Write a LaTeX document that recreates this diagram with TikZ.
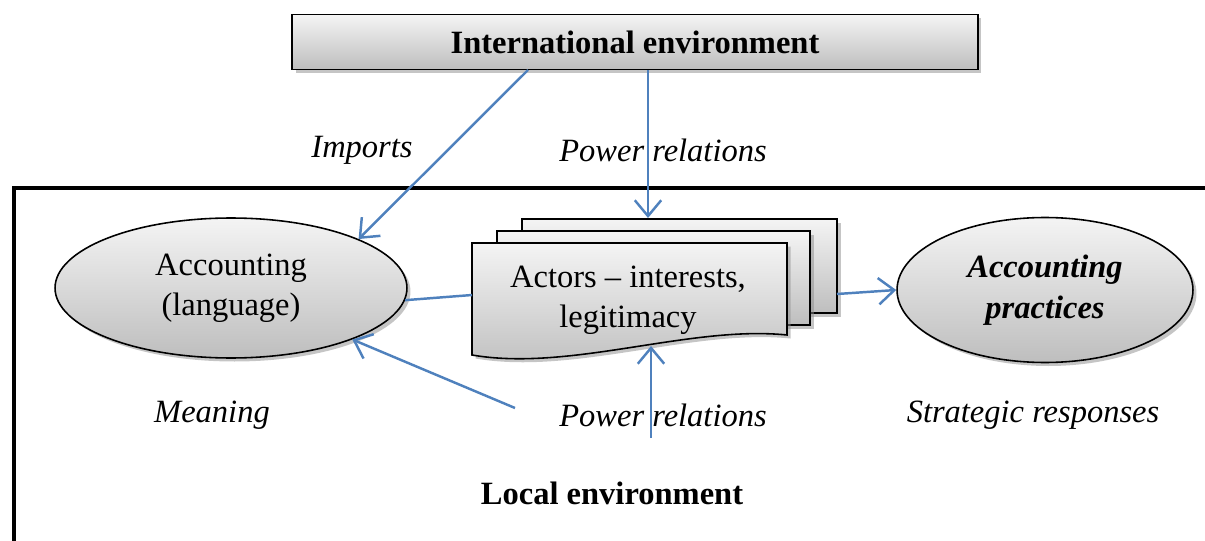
\documentclass[tikz,border=0pt]{standalone}
\usepackage{fontspec}
\setmainfont{Liberation Serif}
\usetikzlibrary{shapes.geometric,shadows,arrows.meta}
\definecolor{link}{HTML}{4F81BD}
\definecolor{shadetop}{HTML}{F4F4F4}
\definecolor{shadebot}{HTML}{BEBEBE}
\definecolor{ink}{HTML}{000000}
\tikzset{
  fnt/.style={font=\fontsize{18.5}{23}\selectfont},
  shad/.style={drop shadow={shadow xshift=2pt, shadow yshift=-2pt, fill=black!45}},
  box/.style={draw=ink, line width=0.9pt, top color=shadetop, bottom color=shadebot, shad},
  ell/.style={ellipse, box, inner sep=0pt, fnt, align=center},
  page/.style={box},
  frame/.style={draw=ink, line width=2.8pt},
  conn/.style={draw=link, line width=1.4pt, -{Straight Barb[length=9pt, width=15pt, line width=1.4pt]}},
  plain/.style={draw=link, line width=1.4pt},
  lab/.style={fnt, font=\fontsize{18.5}{23}\selectfont\itshape},
  head/.style={fnt, font=\fontsize{18.5}{23}\selectfont\bfseries}
}

\begin{document}
\begin{tikzpicture}[x=0.02cm, y=-0.02cm]
  \useasboundingbox (0,0) rectangle (1205,541);
  % local environment frame
  \draw[frame] (14,541) -- (14,188) -- (1205,188);

  % international box
  \node[box, head, minimum width=13.72cm, minimum height=1.1cm, inner sep=0pt] (intl) at (635,42) {International environment};

  % ellipses
  \node[ell, minimum width=7.04cm, minimum height=2.8cm] (accL) at (231,288) {Accounting\\(language)};
  \node[ell, minimum width=5.92cm, minimum height=2.9cm, font=\fontsize{18.5}{23}\selectfont\bfseries\itshape] (accR) at (1045,290) {Accounting\\practices};

  % stacked documents
  \path[page] (522,219) rectangle (837,313);
  \path[page] (497,231) rectangle (810,325);
  \path[page] (472,243) -- (787,243) -- (787,335) .. controls (690,325) and (570,372) .. (472,355) -- cycle;
  \node[fnt, align=center] (actors) at (628,300) {Actors -- interests,\\legitimacy};

  % connector ends
  \coordinate (impS) at (528,70);
  \coordinate (pwrTop) at (648,70);
  \coordinate (docT) at (648,218);
  \coordinate (docL) at (472,295);
  \coordinate (docR) at (837,294);
  \coordinate (docB) at (651,346);
  \coordinate (pwrBot) at (651,438);
  \coordinate (meanS) at (515,408);

  % connectors
  \draw[conn] (impS) -- (accL.21);
  \draw[conn] (pwrTop) -- (docT);
  \draw[plain] (accL.-4) -- (docL);
  \draw[conn] (docR) -- (accR.west);
  \draw[conn] (meanS) -- (accL.-23);
  \draw[conn] (pwrBot) -- (docB);

  % labels
  \node[lab] (lImp) at (362,150) {Imports};
  \node[lab] (lPwrT) at (663,150) {Power relations};
  \node[lab] (lMean) at (212,415) {Meaning};
  \node[lab] (lPwrB) at (663,415) {Power relations};
  \node[lab] (lStrat) at (1033,415) {Strategic responses};
  \node[head] (local) at (612,493) {Local environment};
\end{tikzpicture}
\end{document}
